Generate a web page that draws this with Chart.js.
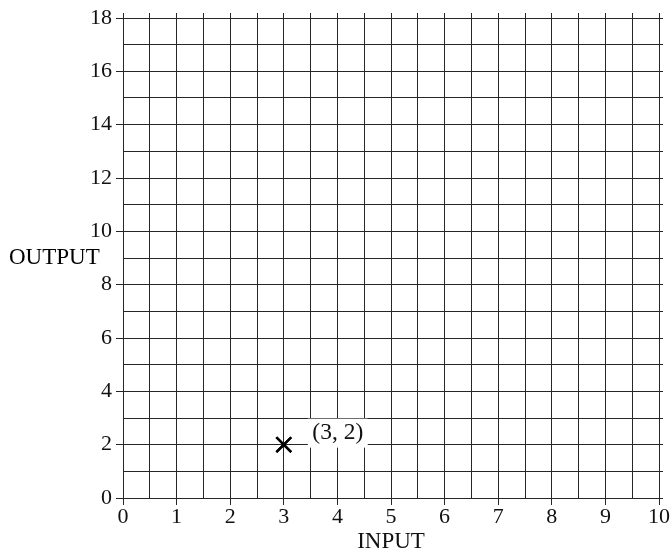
<!DOCTYPE html>
<html>
<head>
<meta charset="utf-8">
<script src="https://cdn.jsdelivr.net/npm/chart.js@4/dist/chart.umd.min.js"></script>
<style>
  html, body { margin: 0; padding: 0; background: #fff; }
</style>
</head>
<body>
<canvas id="chart" width="672" height="554"></canvas>
<script>
// data
const inputs = [3];
const outputs = [2];
const pointLabels = ["(3, 2)"];

const xRange = [0, 10];
const yRange = [0, 18];
const xStep = 0.5;
const yStep = 1;

const LINE = "#262626";
const INK = "#111";
const FONT = "Liberation Serif";

Chart.defaults.font.family = FONT;
Chart.defaults.font.size = 22;
Chart.defaults.color = INK;

const hidden = "rgba(0,0,0,0)";

// "(3, 2)" label on a white box, and the horizontal OUTPUT caption
const annotate = {
  id: "annotate",
  afterDatasetsDraw(chart) {
    const ctx = chart.ctx;
    const meta = chart.getDatasetMeta(0);
    ctx.save();
    ctx.font = "23.5px '" + FONT + "'";
    ctx.textBaseline = "middle";
    ctx.textAlign = "center";
    meta.data.forEach((pt, i) => {
      const txt = pointLabels[i];
      const w = ctx.measureText(txt).width + 9;
      const cx = pt.x + 54, cy = pt.y - 12;
      ctx.fillStyle = "#fff";
      ctx.fillRect(cx - w / 2, cy - 14, w, 29);
      ctx.fillStyle = INK;
      ctx.fillText(txt, cx, cy);
    });
    meta.data.forEach(pt => pt.draw(ctx, chart.chartArea));
    const ys = chart.scales.y;
    ctx.font = "23px '" + FONT + "'";
    ctx.textAlign = "left";
    ctx.fillText("OUTPUT", 9, ys.getPixelForValue(9));
    ctx.restore();
  }
};

new Chart(document.getElementById("chart"), {
  type: "scatter",
  data: {
    datasets: [{
      data: inputs.map((x, i) => ({ x: x, y: outputs[i] })),
      pointStyle: "crossRot",
      pointRadius: 10.5,
      borderWidth: 2.4,
      borderColor: "#000",
      backgroundColor: "#000",
      showLine: false
    }]
  },
  options: {
    responsive: false,
    animation: false,
    events: [],
    layout: { padding: { top: 13, right: 9, bottom: 0, left: 0 } },
    plugins: { legend: { display: false }, tooltip: { enabled: false } },
    scales: {
      x: {
        type: "linear",
        position: "bottom",
        min: xRange[0], max: xRange[1],
        afterFit: s => { s.height = 56; },
        ticks: {
          stepSize: xStep,
          autoSkip: false,
          maxRotation: 0,
          padding: 0,
          font: { lineHeight: 1.1 },
          callback: v => Number.isInteger(v) ? String(v) : ""
        },
        grid: {
          color: LINE,
          lineWidth: 1,
          tickLength: 7,
          tickColor: c => c.tick && Number.isInteger(c.tick.value) ? LINE : hidden
        },
        border: { color: LINE, width: 1 },
        title: {
          display: true,
          text: "INPUT",
          font: { size: 23, lineHeight: 1 },
          padding: { top: 0, bottom: 1 }
        }
      },
      xTop: {
        type: "linear",
        position: "top",
        min: xRange[0], max: xRange[1],
        afterFit: s => { s.height = 5; },
        ticks: { stepSize: xStep, autoSkip: false, display: false },
        grid: { drawOnChartArea: false, tickLength: 5, tickColor: LINE, lineWidth: 1 },
        border: { display: false }
      },
      y: {
        type: "linear",
        position: "left",
        min: yRange[0], max: yRange[1],
        afterFit: s => { s.width = 123; },
        ticks: {
          stepSize: yStep,
          autoSkip: false,
          padding: 4,
          callback: v => v % 2 === 0 ? String(v) : ""
        },
        grid: {
          color: LINE,
          lineWidth: 1,
          tickLength: 7,
          tickColor: c => c.tick && c.tick.value % 2 === 0 ? LINE : hidden
        },
        border: { color: LINE, width: 1 }
      },
      yRight: {
        type: "linear",
        position: "right",
        min: yRange[0], max: yRange[1],
        afterFit: s => { s.width = 4; },
        ticks: { stepSize: yStep, autoSkip: false, display: false },
        grid: { drawOnChartArea: false, tickLength: 4, tickColor: LINE, lineWidth: 1 },
        border: { display: false }
      }
    }
  },
  plugins: [annotate]
});
</script>
</body>
</html>
